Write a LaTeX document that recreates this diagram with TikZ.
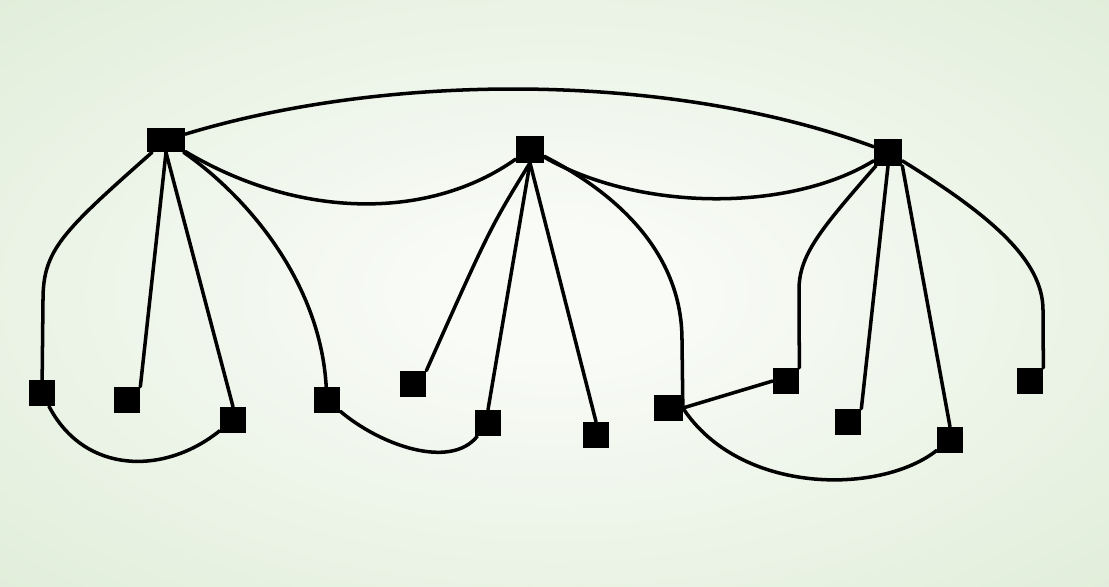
\documentclass[tikz,border=0pt]{standalone}
\usepackage{tikz}
\usepackage{xcolor}

\definecolor{bginner}{RGB}{249,251,247}
\definecolor{bgmid}{RGB}{225,238,218}
\definecolor{bgouter}{RGB}{212,231,202}
\pgfdeclareradialshading{bgglow}{\pgfpoint{0bp}{0bp}}{color(0bp)=(bginner); color(5bp)=(bginner); color(36bp)=(bgmid); color(71bp)=(bgouter)}

\tikzset{
  hub/.style={rectangle, fill=black, inner sep=0pt, minimum width=0.56cm, minimum height=0.54cm},
  leaf/.style={rectangle, fill=black, inner sep=0pt, minimum size=0.52cm},
  wire/.style={line width=2pt, line join=round, line cap=round}
}

\begin{document}
\begin{tikzpicture}[x=0.02cm, y=-0.02cm]
\useasboundingbox (0,0) rectangle (1109,586);
\shade[shading=bgglow] (0,0) rectangle (1109,586);

\node [hub, minimum width=0.76cm, minimum height=0.48cm] (A) at (166,140) {};
\node [hub] (B) at (530,149) {};
\node [hub] (C) at (888,152) {};

\node [leaf] (L1) at (42,393) {};\node [leaf] (L2) at (127,400) {};
\node [leaf] (L3) at (233,420) {};\node [leaf] (L4) at (327,400) {};
\node [leaf] (M1) at (413,384) {};\node [leaf] (M2) at (488,423) {};
\node [leaf] (M3) at (596,435) {};\node [leaf, minimum width=0.58cm] (M4) at (668,408) {};
\node [leaf] (R1) at (786,381) {};\node [leaf] (R2) at (848,422) {};
\node [leaf] (R3) at (950,440) {};\node [leaf] (R4) at (1030,381) {};

\draw [wire] (A) .. controls (390,72) and (670,72) .. (C);
\draw [wire] (A) .. controls (300,220) and (430,220) .. (B);
\draw [wire] (B) .. controls (640,212) and (790,212) .. (C);

\draw [wire] (A) .. controls (62,232) and (43,250) .. (43,300) -- (L1);
\draw [wire] (A.south) -- (L2.north east);
\draw [wire] (A.south) -- (L3.north);
\draw [wire] (A) .. controls (245,195) and (320,280) .. (L4);
\draw [wire] (L1) .. controls (85,475) and (165,475) .. (L3);

\draw [wire] (B.south) .. controls (490,228) .. (M1.north east);
\draw [wire] (B.south) -- (M2.north);
\draw [wire] (B.south) -- (M3.north);
\draw [wire] (B) .. controls (620,195) and (682,255) .. (682,340) -- (M4.east);
\draw [wire] (L4) .. controls (380,445) and (450,470) .. (M2);

\draw [wire] (M4.east) -- (R1.west);
\draw [wire] (M4.east) .. controls (740,495) and (880,495) .. (R3);

\draw [wire] (C) .. controls (820,230) and (799,255) .. (799,290) -- (R1.north east);
\draw [wire] (C.south) -- (R2.north east);
\draw [wire] (C.south east) -- (R3.north);
\draw [wire] (C) .. controls (990,215) and (1043,260) .. (1043,310) -- (R4.north east);

\end{tikzpicture}
\end{document}
